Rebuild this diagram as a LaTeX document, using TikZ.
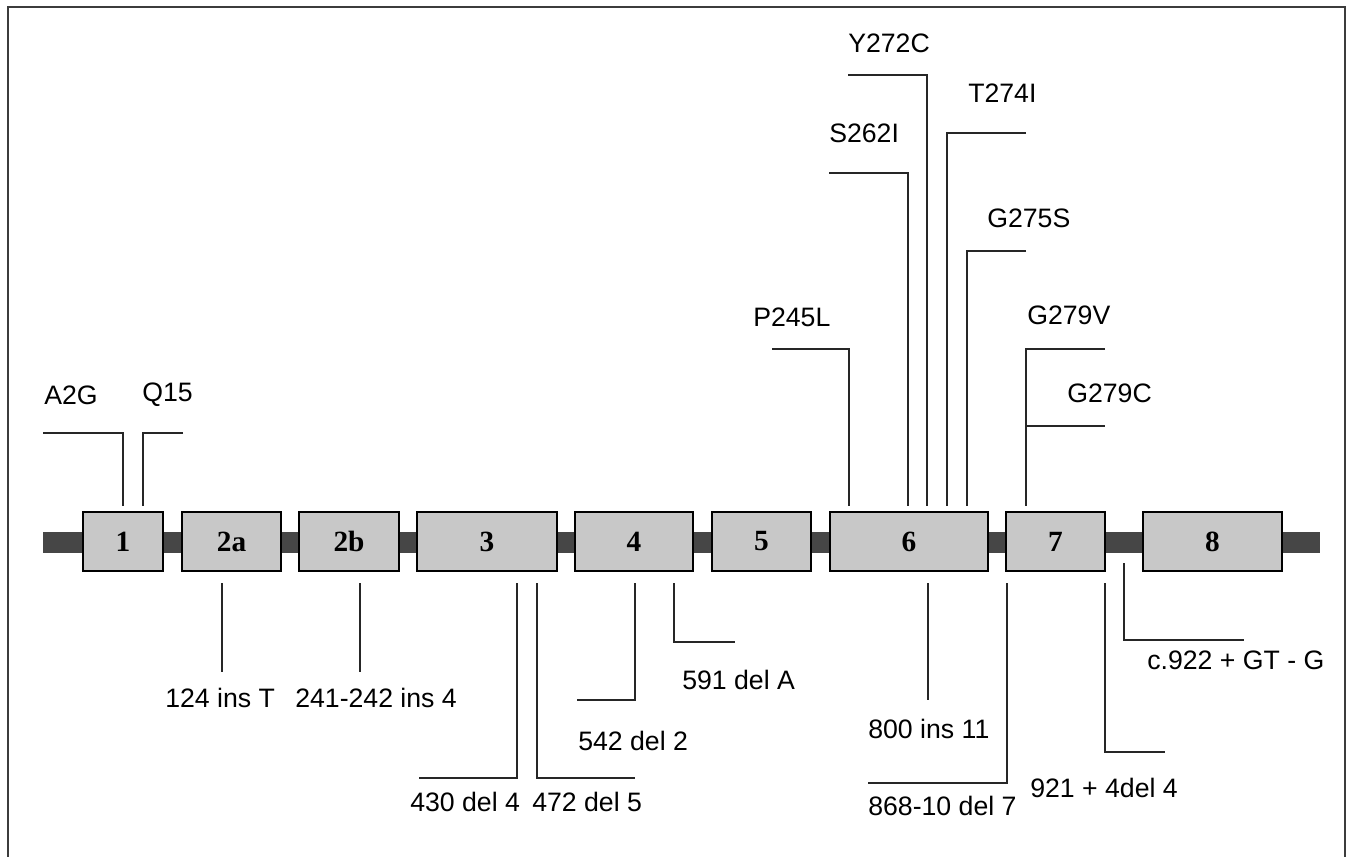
\documentclass[tikz,border=0pt]{standalone}
\usepackage{fontspec}
\setmainfont{Liberation Sans}
\newfontfamily\exfont{Liberation Serif}
\definecolor{exfill}{RGB}{200,200,200}
\definecolor{bardark}{RGB}{70,70,70}
\definecolor{framec}{RGB}{60,60,60}
\tikzset{
  exonbox/.style={draw=black, line width=1.4pt, fill=exfill, minimum height=44.25pt, inner sep=0pt,
    font=\exfont\bfseries\fontsize{22}{24}\selectfont},
  lab/.style={anchor=west, inner sep=0pt, font=\fontsize{20}{22}\selectfont},
  mline/.style={line width=1.1pt, black!85},
}
\newcommand\exon[4]{\node[exonbox, minimum width={(#3-#2)*0.75pt}] (#1) at ({(#2+#3)/2},541.5) {#4};}
\begin{document}
\begin{tikzpicture}[x=0.75pt,y=-0.75pt]
\useasboundingbox (0,0) rectangle (1348,856);
% frame
\draw[framec, line width=1.6pt] (8,870) -- (8,7) -- (1345,7) -- (1345,870);
% backbone
\fill[bardark] (43,532) rectangle (1320,553);
% exons
\exon{e1}{83}{163}{1}
\exon{e2a}{182}{281}{2a}
\exon{e2b}{299}{399}{2b}
\exon{e3}{417}{557}{3}
\exon{e4}{575}{693}{4}
\exon{e5}{712}{811}{5}
\exon{e6}{830}{988}{6}
\exon{e7}{1006}{1105}{7}
\exon{e8}{1143}{1282}{8}
% ---- upper mutations
\node[lab] (A2G) at (44,395) {A2G};
\node[lab] (Q15) at (142,395) {Q15};
\draw[mline] (43,433) -- (123,433) -- (123,506);
\draw[mline] (183,433) -- (143,433) -- (143,506);
\node[lab] (P245L) at (753,317) {P245L};
\draw[mline] (772,349) -- (849,349) -- (849,506);
\node[lab] (S262I) at (829,133) {S262I};
\draw[mline] (829,173) -- (908,173) -- (908,506);
\node[lab] (Y272C) at (848,43) {Y272C};
\draw[mline] (848,75) -- (927,75) -- (927,506);
\node[lab] (T274I) at (968,93) {T274I};
\draw[mline] (1026,133) -- (947,133) -- (947,506);
\node[lab] (G275S) at (987,218) {G275S};
\draw[mline] (1026,251) -- (967,251) -- (967,506);
\node[lab] (G279V) at (1027,315) {G279V};
\draw[mline] (1105,349) -- (1026,349) -- (1026,506);
\node[lab] (G279C) at (1067,393) {G279C};
\draw[mline] (1026,426) -- (1105,426);
% ---- lower mutations
\node[lab] (m124) at (165,698) {124 ins T};
\draw[mline] (222,583) -- (222,672);
\node[lab] (m241) at (295,698) {241-242 ins 4};
\draw[mline] (360,583) -- (360,672);
\node[lab] (m430) at (410,802) {430 del 4};
\draw[mline] (517,583) -- (517,778) -- (419,778);
\node[lab] (m472) at (532,802) {472 del 5};
\draw[mline] (537,583) -- (537,778) -- (635,778);
\node[lab] (m542) at (578,741) {542 del 2};
\draw[mline] (635,583) -- (635,700) -- (577,700);
\node[lab] (m591) at (682,680) {591 del A};
\draw[mline] (674,583) -- (674,642) -- (735,642);
\node[lab] (m800) at (868,729) {800 ins 11};
\draw[mline] (928,583) -- (928,700);
\node[lab] (m868) at (868,806) {868-10 del 7};
\draw[mline] (1007,583) -- (1007,783) -- (868,783);
\node[lab] (m921) at (1030,788) {921 + 4del 4};
\draw[mline] (1105,583) -- (1105,752) -- (1165,752);
\node[lab] (m922) at (1147,660) {c.922 + GT - G};
\draw[mline] (1124,563) -- (1124,640) -- (1244,640);
\end{tikzpicture}
\end{document}
